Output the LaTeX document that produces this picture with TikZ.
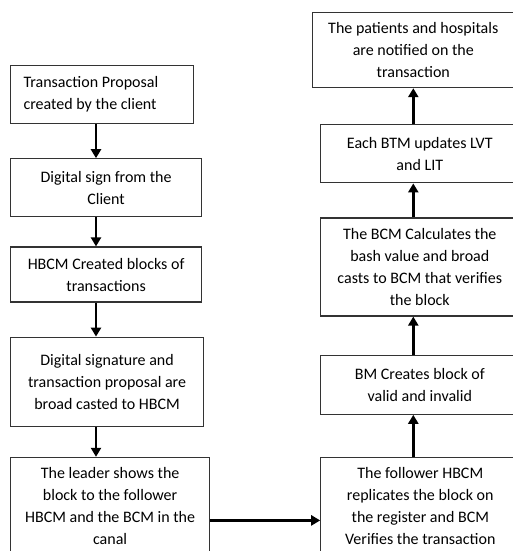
\documentclass[tikz,border=0pt]{standalone}
\usepackage{fontspec}
\setmainfont{Carlito}
\usepackage{tikz}
\usetikzlibrary{arrows.meta, positioning}
\tikzstyle{process} = [rectangle, draw=black!80, line width=0.9pt, align=center, inner xsep=2pt, font=\fontsize{12}{16.5}\selectfont]
\tikzstyle{arrow} = [line width=1.8pt, -{Triangle[length=6.75pt, width=7.5pt]}]

\begin{document}
\begin{tikzpicture}
    \useasboundingbox (0,0) rectangle (384pt,-413.25pt);
    \coordinate (lcol) at (72pt,0);

    \node (propose) [process, align=flush left, text width=117.75pt, inner xsep=9.75pt, minimum height=43.5pt, anchor=north west] at (7.5pt,-48.75pt) {Transaction Proposal\\created by the client};
    \node (sign) [process, minimum width=143.25pt, minimum height=43.5pt, below=25.5pt of propose.south west, anchor=north west] {Digital sign from the\\Client};
    \node (blocks) [process, minimum width=143.25pt, minimum height=41.25pt, below=21.75pt of sign.south west, anchor=north west] {HBCM Created blocks of\\transactions};
    \node (broadcast) [process, minimum width=144.75pt, minimum height=66.75pt, below=25.5pt of blocks.south west, anchor=north west] {Digital signature and\\transaction proposal are\\broad casted to HBCM};
    \node (leader) [process, minimum width=149.25pt, minimum height=73pt, below=22.5pt of broadcast.south west, anchor=north west] {The leader shows the\\block to the follower\\HBCM and the BCM in the\\canal};
    \node (follower) [process, minimum width=149.25pt, minimum height=73pt, right=82.5pt of leader.north east, anchor=north west] {The follower HBCM\\replicates the block on\\the register and BCM\\Verifies the transaction};
    \node (validity) [process, minimum width=148.5pt, minimum height=44.25pt, above=31.5pt of follower.north west, anchor=south west] {BM Creates block of\\valid and invalid};
    \node (hashcalc) [process, minimum width=148.5pt, minimum height=73.5pt, above=28.5pt of validity.north west, anchor=south west] {The BCM Calculates the\\bash value and broad\\casts to BCM that verifies\\the block};
    \node (update) [process, minimum width=148.5pt, minimum height=43.5pt, above=25.5pt of hashcalc.north west, anchor=south west] {Each BTM updates LVT\\and LIT};
    \node (notify) [process, minimum width=150.75pt, minimum height=56.25pt, above=27pt of update.north west, anchor=south west, xshift=-6pt] {The patients and hospitals\\are notified on the\\transaction};

    \draw [arrow] (propose.south -| lcol) -- (sign.north -| lcol);
    \draw [arrow] (sign.south -| lcol) -- (blocks.north -| lcol);
    \draw [arrow] (blocks.south -| lcol) -- (broadcast.north -| lcol);
    \draw [arrow] (broadcast.south -| lcol) -- (leader.north -| lcol);
    \draw [arrow] ([yshift=-10.75pt]leader.east) -- ([yshift=-10.75pt]leader.east -| follower.west);
    \draw [arrow] (follower.north -| notify.south) -- (validity.south -| notify.south);
    \draw [arrow] (validity.north -| notify.south) -- (hashcalc.south -| notify.south);
    \draw [arrow] (hashcalc.north -| notify.south) -- (update.south -| notify.south);
    \draw [arrow] (update.north -| notify.south) -- (notify.south);
\end{tikzpicture}
\end{document}
